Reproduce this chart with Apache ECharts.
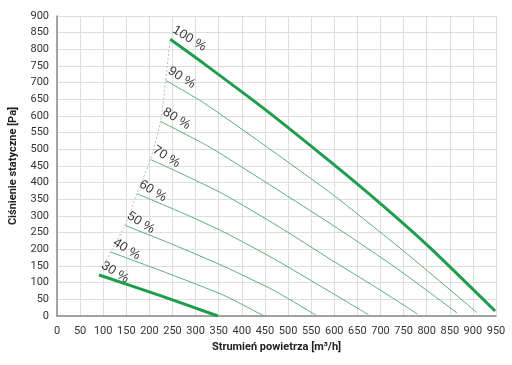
<!DOCTYPE html>
<html><head><meta charset="utf-8">
<script src="https://cdn.jsdelivr.net/npm/echarts@6/dist/echarts.min.js"></script>
<style>html,body{margin:0;padding:0;background:#fff}#c{width:512px;height:365px}</style>
</head><body><div id="c"></div>
<script>
const xTicks = [0,50,100,150,200,250,300,350,400,450,500,550,600,650,700,750,800,850,900,950];
const yTicks = [0,50,100,150,200,250,300,350,400,450,500,550,600,650,700,750,800,850,900];
const speedLabels = ['100 %','90 %','80 %','70 %','60 %','50 %','40 %','30 %'];
const curve100 = [[245,830],[317,758],[450,620],[594,460],[700,337],[807,205],[948,15]];
const curve90  = [[235,707],[317,640],[431,530],[594,367],[750,195],[909,10]];
const curve80  = [[224,584],[317,517],[361,481],[594,275],[730,148],[866,9]];
const curve70  = [[202,470],[280,420],[361,365],[480,268],[594,168],[690,86],[780,6]];
const curve60  = [[173,367],[270,310],[361,252],[469,172],[594,70],[674,4]];
const curve50  = [[147,272],[250,215],[361,149],[469,77],[561,2]];
const curve40  = [[116,192],[240,128],[361,62],[448,0]];
const curve30  = [[91,123],[222,62],[348,0]];

const curves = [curve100,curve90,curve80,curve70,curve60,curve50,curve40,curve30];
const thick = [true,false,false,false,false,false,false,true];
const surge = curves.map(c => c[0]).reverse();

const series = curves.map((c,i) => ({
  type:'line', data:c, smooth:0.2, symbol:'none',
  lineStyle:{color: thick[i] ? '#1e9e4c' : '#5aaf78', width: thick[i] ? 3 : 1},
  z: thick[i] ? 4 : 3, silent:true
}));
series.push({
  type:'line', data:surge, smooth:0.3, symbol:'none',
  lineStyle:{color:'#bbbbbb', width:1, type:[2,2]}, z:2, silent:true
});
series.push({
  type:'scatter', symbolSize:0, z:5, silent:true,
  data: curves.map((c,i) => ({value:c[0], name:speedLabels[i]})),
  label:{show:true, formatter:p=>p.name, position:'top', align:'left', verticalAlign:'bottom',
    rotate:-32, offset:[0,0], color:'#000', fontSize:13, fontFamily:'Liberation Sans'}
});

const chart = echarts.init(document.getElementById('c'), null, {renderer:'canvas'});
chart.setOption({
  animation:false,
  grid:{left:53, right:16, top:16, bottom:49, containLabel:false},
  xAxis:{type:'value', min:0, max:950, interval:50,
    name:'Strumień powietrza [m³/h]', nameLocation:'middle', nameGap:26,
    nameTextStyle:{fontWeight:'bold', fontSize:11, color:'#222', fontFamily:'Roboto'},
    axisLine:{show:true, lineStyle:{color:'#888', width:1.5}}, axisTick:{show:false},
    axisLabel:{color:'#333', fontSize:11, fontFamily:'Roboto', margin:10},
    splitLine:{show:true, lineStyle:{color:'#dedede', width:1}}},
  yAxis:{type:'value', min:0, max:900, interval:50,
    name:'Ciśnienie statyczne [Pa]', nameLocation:'middle', nameGap:38,
    nameTextStyle:{fontWeight:'bold', fontSize:11, color:'#222', fontFamily:'Roboto'},
    axisLine:{show:true, lineStyle:{color:'#888', width:1.5}}, axisTick:{show:false},
    axisLabel:{color:'#333', fontSize:11, fontFamily:'Roboto', margin:8},
    splitLine:{show:true, lineStyle:{color:'#dedede', width:1}}},
  series: series
});
</script></body></html>
